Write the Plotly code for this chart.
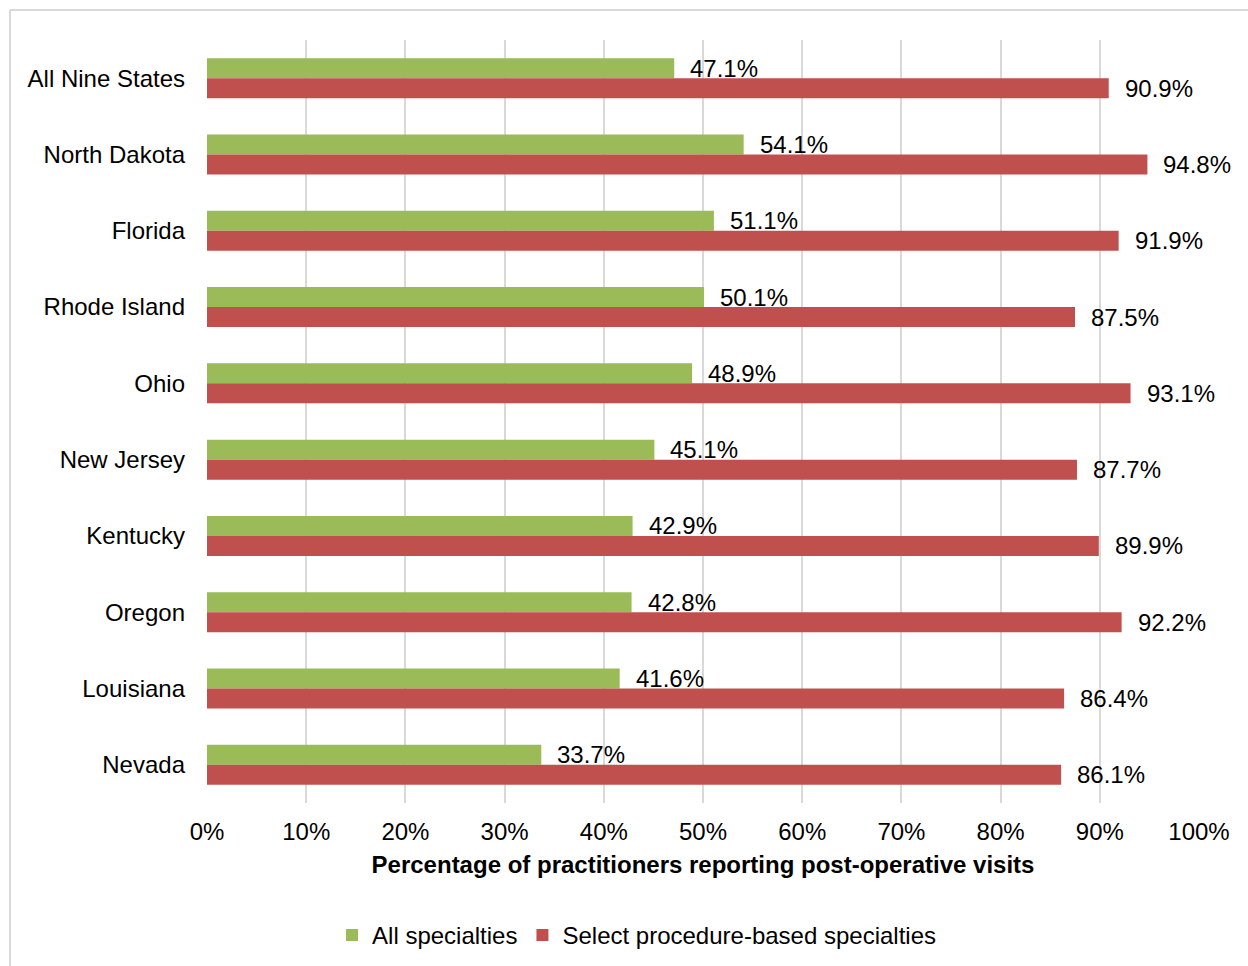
import plotly.graph_objects as go

# Post-operative visit reporting by state
states = ["All Nine States", "North Dakota", "Florida", "Rhode Island", "Ohio",
          "New Jersey", "Kentucky", "Oregon", "Louisiana", "Nevada"]
all_specialties = [47.1, 54.1, 51.1, 50.1, 48.9, 45.1, 42.9, 42.8, 41.6, 33.7]
select_specialties = [90.9, 94.8, 91.9, 87.5, 93.1, 87.7, 89.9, 92.2, 86.4, 86.1]
x_ticks = [0, 10, 20, 30, 40, 50, 60, 70, 80, 90, 100]

GREEN = "#9BBB59"
RED = "#C0504D"
FONT = "Liberation Sans, Arial, sans-serif"
FS = 24

fig = go.Figure()
fig.add_trace(go.Bar(y=states, x=all_specialties, orientation="h",
                     name="All specialties", marker_color=GREEN,
                     marker_line_width=0))
fig.add_trace(go.Bar(y=states, x=select_specialties, orientation="h",
                     name="Select procedure-based specialties", marker_color=RED,
                     marker_line_width=0))

# Value labels to the right of each bar
for s, v in zip(states, all_specialties):
    fig.add_annotation(x=v, y=s, text=f"{v:.1f}%", showarrow=False,
                       xanchor="left", yanchor="middle", xshift=14, yshift=10,
                       font=dict(family=FONT, size=FS, color="#000"))
for s, v in zip(states, select_specialties):
    fig.add_annotation(x=v, y=s, text=f"{v:.1f}%", showarrow=False,
                       xanchor="left", yanchor="middle", xshift=14, yshift=-10,
                       font=dict(family=FONT, size=FS, color="#000"))

# Light frame around the chart area
frame = dict(type="line", xref="paper", yref="paper",
             line=dict(color="#D9D9D9", width=2))
fig.add_shape(x0=-0.1986, x1=1.1, y0=1.0393, y1=1.0393, **frame)
fig.add_shape(x0=-0.1986, x1=-0.1986, y0=1.0393, y1=-0.3, **frame)

fig.update_layout(
    width=1248, height=966,
    margin=dict(l=207, r=49, t=40, b=163),
    paper_bgcolor="white", plot_bgcolor="white",
    barmode="group", bargap=0.476, bargroupgap=0,
    font=dict(family=FONT, size=FS, color="#000"),
    showlegend=True,
    legend=dict(orientation="h", x=0.433, xanchor="center",
                yref="container", y=0.055, yanchor="top",
                font=dict(size=FS), traceorder="normal", itemwidth=30),
)
fig.update_xaxes(range=[0, 100], tickvals=x_ticks,
                 ticktext=[f"{t}%" for t in x_ticks],
                 showgrid=True, gridcolor="#D9D9D9", gridwidth=2,
                 zeroline=False, showline=False, ticks="",
                 ticklabelstandoff=12, automargin=False,
                 title=dict(text="<b>Percentage of practitioners reporting post-operative visits</b>",
                            font=dict(size=FS), standoff=12))
fig.update_yaxes(autorange="reversed", showgrid=False, zeroline=False,
                 showline=False, ticks="", ticklabelstandoff=21,
                 automargin=False)

fig.write_html("out.html")
